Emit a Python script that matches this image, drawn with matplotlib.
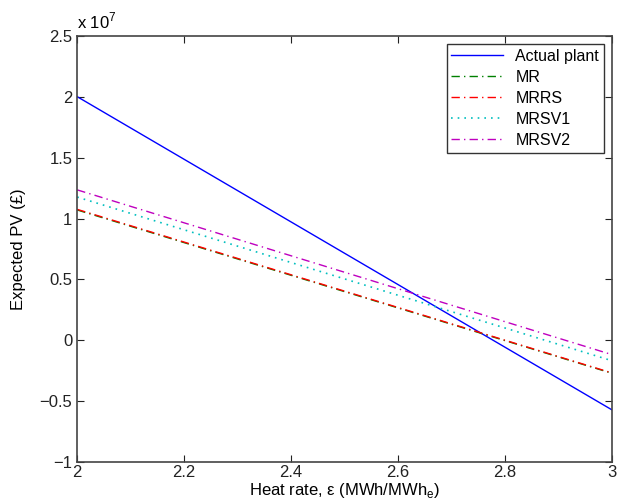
import matplotlib
matplotlib.use('Agg')
from matplotlib import pyplot as plt

plt.rcParams['font.family'] = ['Liberation Sans', 'DejaVu Sans']

# heat rate end points (MWh/MWh_e)
heat_rate = [2.0, 3.0]
# expected PV in units of 1e7 GBP
actual_plant = [2.00, -0.57]
mr = [1.07, -0.27]
mrrs = [1.075, -0.267]
mrsv1 = [1.176, -0.167]
mrsv2 = [1.235, -0.117]

x_ticks = [2, 2.2, 2.4, 2.6, 2.8, 3]
x_tick_labels = ['2', '2.2', '2.4', '2.6', '2.8', '3']
y_ticks = [-1, -0.5, 0, 0.5, 1, 1.5, 2, 2.5]
y_tick_labels = ['\u22121', '\u22120.5', '0', '0.5', '1', '1.5', '2', '2.5']


def main():
    fig = plt.figure(figsize=(6.18, 5.04), dpi=100)
    ax = fig.add_axes([0.125, 0.083, 0.865, 0.846])

    ax.plot(heat_rate, actual_plant, color='#0000ff', linestyle='-', linewidth=1.0, label='Actual plant')
    ax.plot(heat_rate, mr, color='#008000', linestyle=(0, (6, 3, 1, 3)), linewidth=1.0, label='MR')
    ax.plot(heat_rate, mrrs, color='#ff0000', linestyle=(0, (6, 3, 1, 3)), linewidth=1.0, label='MRRS')
    ax.plot(heat_rate, mrsv1, color='#00bfbf', linestyle=(0, (1, 3)), linewidth=1.2, label='MRSV1')
    ax.plot(heat_rate, mrsv2, color='#bf00bf', linestyle=(0, (6, 3, 1, 3)), linewidth=1.0, label='MRSV2')

    ax.set_xlim(2, 3)
    ax.set_ylim(-1, 2.5)
    ax.set_xticks(x_ticks)
    ax.set_xticklabels(x_tick_labels)
    ax.set_yticks(y_ticks)
    ax.set_yticklabels(y_tick_labels)
    ax.tick_params(direction='in', top=True, right=True, labelsize=12, length=5, colors='#222222')
    ax.tick_params(axis='x', pad=2)
    for spine in ax.spines.values():
        spine.set_color('#444444')
        spine.set_linewidth(1.2)

    ax.set_xlabel('Heat rate, \u03b5 (MWh/MWh$_\\mathregular{e}$)', fontsize=12, labelpad=1)
    ax.set_ylabel('Expected PV (\u00a3)', fontsize=12, labelpad=10)
    ax.text(0.0, 1.01, 'x 10$^\\mathregular{7}$', transform=ax.transAxes, fontsize=12,
            ha='left', va='bottom')

    leg = ax.legend(loc='upper right', fontsize=11.5, fancybox=False, framealpha=1,
                    edgecolor='#333333', borderaxespad=0.5, handlelength=3.2,
                    labelspacing=0.38, borderpad=0.3)
    leg.get_frame().set_linewidth(1.0)

    fig.savefig('out.png', dpi=100)


if __name__ == '__main__':
    main()
